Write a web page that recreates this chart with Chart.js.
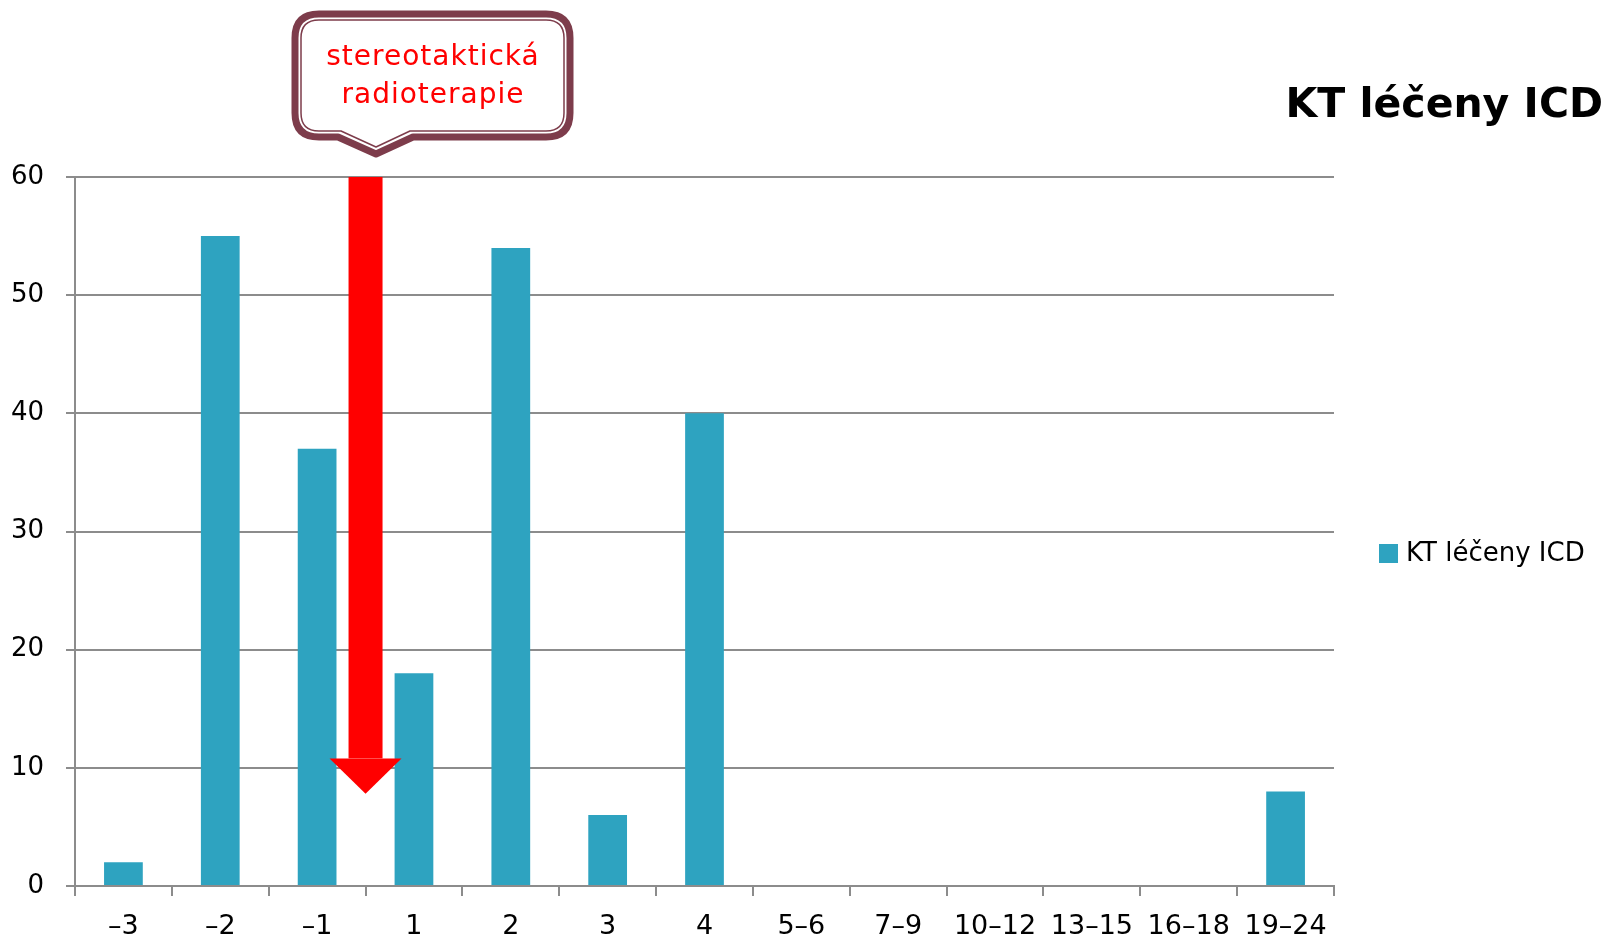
<!DOCTYPE html>
<html>
<head>
<meta charset="utf-8">
<script src="https://cdn.jsdelivr.net/npm/chart.js@4/dist/chart.umd.min.js"></script>
<style>
  html, body { margin: 0; padding: 0; background: #fff; }
  #wrap { width: 1606px; height: 938px; }
</style>
</head>
<body>
<div id="wrap"><canvas id="graf"></canvas></div>
<script>
const kategorie = ['–3', '–2', '–1', '1', '2', '3', '4', '5–6', '7–9', '10–12', '13–15', '16–18', '19–24'];
const hodnoty = [2, 55, 37, 18, 54, 6, 40, 0, 0, 0, 0, 0, 8];
const nazevRady = 'KT léčeny ICD';
const popisek = ['stereotaktická', 'radioterapie'];
// sipka mezi -1 a 1 (pozice na ose kategorii), od 60 dolu
const sipkaX = 2.5;
const sipkaOd = 60;
const sipkaHlava = 10.8;
const sipkaKonec = 7.8;

const barva = '#2ea3c0';
const seda = '#8c8c8c';
const pismo = "'DejaVu Sans', sans-serif";

const doplnky = {
  id: 'doplnky',
  afterDatasetsDraw(chart) {
    const ctx = chart.ctx;
    const x = chart.scales.x, y = chart.scales.y;

    // cervena sipka
    const cx = x.getPixelForValue(sipkaX);
    const yTop = y.getPixelForValue(sipkaOd);
    const yHead = y.getPixelForValue(sipkaHlava);
    const yTip = y.getPixelForValue(sipkaKonec);
    ctx.save();
    ctx.fillStyle = '#ff0000';
    ctx.fillRect(cx - 17, yTop, 34, yHead - yTop);
    ctx.beginPath();
    ctx.moveTo(cx - 36, yHead);
    ctx.lineTo(cx + 36, yHead);
    ctx.lineTo(cx, yTip);
    ctx.closePath();
    ctx.fill();
    ctx.restore();
  },
  afterDraw(chart) {
    const ctx = chart.ctx;
    ctx.save();

    // nadpis
    ctx.fillStyle = '#000';
    ctx.font = "bold 41px " + pismo;
    ctx.textAlign = 'right';
    ctx.textBaseline = 'alphabetic';
    ctx.fillText(nazevRady, 1603, 117);

    // legenda
    ctx.fillStyle = barva;
    ctx.fillRect(1379, 544, 19, 19);
    ctx.fillStyle = '#000';
    ctx.font = "26px " + pismo;
    ctx.textAlign = 'left';
    ctx.fillText(nazevRady, 1406, 561);

    // bublina
    function bublina(l, t, r, b, rad, tipX, tipY, baseL, baseR) {
      ctx.beginPath();
      ctx.moveTo(l + rad, t);
      ctx.lineTo(r - rad, t);
      ctx.quadraticCurveTo(r, t, r, t + rad);
      ctx.lineTo(r, b - rad);
      ctx.quadraticCurveTo(r, b, r - rad, b);
      ctx.lineTo(baseR, b);
      ctx.lineTo(tipX, tipY);
      ctx.lineTo(baseL, b);
      ctx.lineTo(l + rad, b);
      ctx.quadraticCurveTo(l, b, l, b - rad);
      ctx.lineTo(l, t + rad);
      ctx.quadraticCurveTo(l, t, l + rad, t);
      ctx.closePath();
    }
    ctx.lineJoin = 'round';
    bublina(295, 14, 570, 137, 24, 376, 154, 338, 413);
    ctx.fillStyle = '#fff';
    ctx.fill();
    ctx.strokeStyle = '#7d3c4b';
    ctx.lineWidth = 7;
    ctx.stroke();
    bublina(301, 20, 564, 131, 18, 376, 147, 341, 410);
    ctx.lineWidth = 1.5;
    ctx.stroke();

    ctx.fillStyle = '#ff0000';
    ctx.font = "28px " + pismo;
    ctx.letterSpacing = '1px';
    ctx.textAlign = 'center';
    ctx.fillText(popisek[0], 433, 65);
    ctx.fillText(popisek[1], 433, 103);
    ctx.restore();
  }
};

new Chart(document.getElementById('graf'), {
  type: 'bar',
  data: {
    labels: kategorie,
    datasets: [{
      label: nazevRady,
      data: hodnoty,
      backgroundColor: barva,
      barPercentage: 0.4,
      categoryPercentage: 1
    }]
  },
  options: {
    responsive: true,
    maintainAspectRatio: false,
    animation: false,
    layout: { padding: { left: 0, top: 177, right: 272, bottom: 0 } },
    plugins: {
      legend: { display: false },
      tooltip: { enabled: false }
    },
    scales: {
      x: {
        afterFit(s) { s.height = 52; },
        grid: { offset: true, drawOnChartArea: false, drawTicks: true, tickLength: 10, color: seda, lineWidth: 2 },
        border: { color: seda, width: 2 },
        ticks: { color: '#000', font: { family: pismo, size: 27 }, padding: 15 }
      },
      y: {
        min: 0, max: 60,
        afterFit(s) { s.width = 75; },
        grid: { color: seda, lineWidth: 2, tickLength: 9 },
        border: { color: seda, width: 2 },
        ticks: { stepSize: 10, color: '#000', font: { family: pismo, size: 26 }, padding: 22 }
      }
    }
  },
  plugins: [doplnky]
});
</script>
</body>
</html>
